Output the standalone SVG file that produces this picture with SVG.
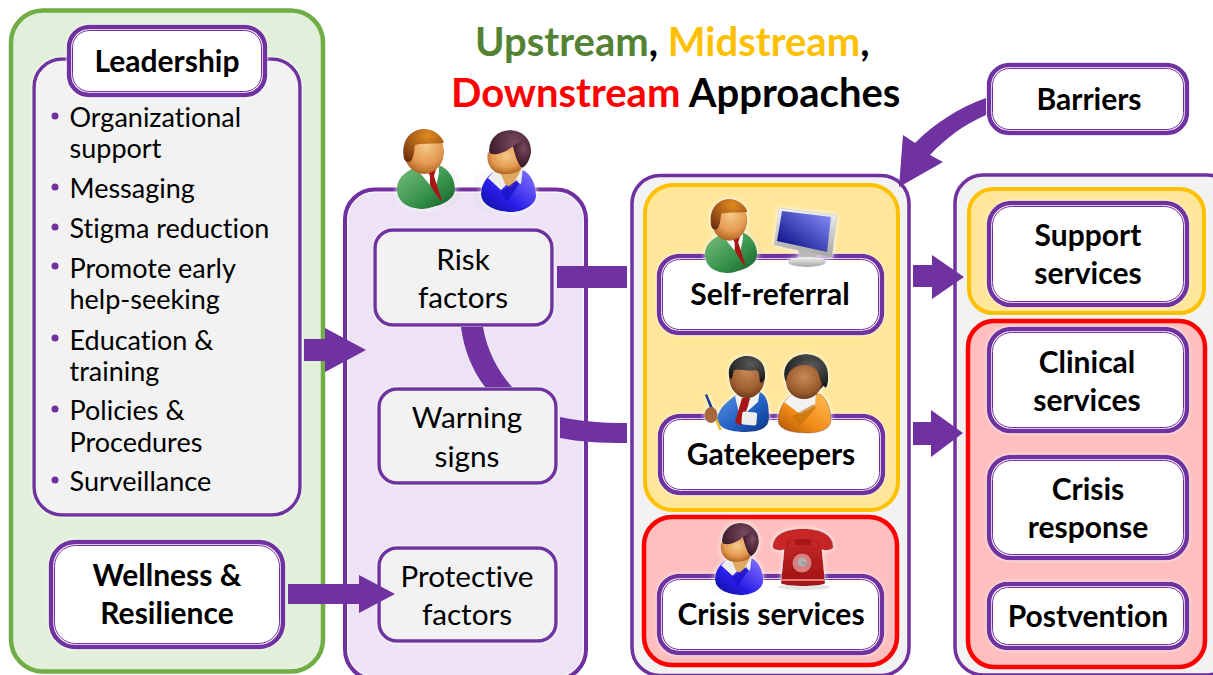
<svg xmlns="http://www.w3.org/2000/svg" xmlns:xlink="http://www.w3.org/1999/xlink" width="1213" height="675" viewBox="0 0 1213 675">
<style>
text{font-family:Lato,"Liberation Sans",sans-serif;fill:#000;font-variant-ligatures:none}
.b{font-weight:700;font-size:30px;text-anchor:middle}
.r{font-size:29.700px;text-anchor:middle}
.l{font-size:27px}
.t{font-weight:700;font-size:40px}
.p{fill:#7030a0;stroke:none}
.box{fill:#fff;stroke:#7030a0;stroke-width:4.500;filter:url(#glow)}
.thin{fill:none;stroke:#7030a0;stroke-width:1}
.soft{fill:#f2f2f2;stroke:#7030a0;stroke-width:3.500;filter:url(#glow)}
.arrow{fill:#7030a0;stroke:none;filter:url(#edge)}
</style>
<defs>
<filter id="glow" x="-10%" y="-10%" width="120%" height="120%"><feDropShadow dx="0" dy="0" stdDeviation="1.5" flood-color="#fff"/></filter>
<filter id="edge" x="-5%" y="-5%" width="110%" height="110%"><feGaussianBlur stdDeviation="0.5"/></filter>
<filter id="halo" x="-20%" y="-20%" width="140%" height="140%"><feDropShadow dx="0" dy="0" stdDeviation="2.5" flood-color="#fff"/></filter>
<radialGradient id="skin" cx=".55" cy=".35" r=".7"><stop offset="0" stop-color="#f6c98a"/><stop offset=".6" stop-color="#e49a50"/><stop offset="1" stop-color="#a85a1c"/></radialGradient>
<radialGradient id="skinD" cx=".5" cy=".35" r=".7"><stop offset="0" stop-color="#c98a58"/><stop offset=".7" stop-color="#9a5a2c"/><stop offset="1" stop-color="#5e3014"/></radialGradient>
<radialGradient id="hairB" cx=".6" cy=".2" r=".9"><stop offset="0" stop-color="#e08a20"/><stop offset="1" stop-color="#6e2f0c"/></radialGradient>
<radialGradient id="hairW" cx=".6" cy=".3" r=".8"><stop offset="0" stop-color="#7a4a60"/><stop offset="1" stop-color="#2a0c18"/></radialGradient>
<radialGradient id="hairK" cx=".6" cy=".3" r=".8"><stop offset="0" stop-color="#5a5a5a"/><stop offset="1" stop-color="#111"/></radialGradient>
<linearGradient id="suitG" x1="0" y1="0" x2="1" y2="1"><stop offset="0" stop-color="#7cc07e"/><stop offset=".6" stop-color="#36914a"/><stop offset="1" stop-color="#115c25"/></linearGradient>
<linearGradient id="suitW" x1="1" y1="0" x2="0" y2="1"><stop offset="0" stop-color="#8c78ff"/><stop offset=".6" stop-color="#2a1fe8"/><stop offset="1" stop-color="#0a0a9a"/></linearGradient>
<linearGradient id="suitB" x1="0" y1="0" x2="1" y2="1"><stop offset="0" stop-color="#5a96e6"/><stop offset=".6" stop-color="#1f5cc0"/><stop offset="1" stop-color="#0e3580"/></linearGradient>
<linearGradient id="suitO" x1="1" y1="0" x2="0" y2="1"><stop offset="0" stop-color="#ffc05a"/><stop offset=".6" stop-color="#f08a14"/><stop offset="1" stop-color="#a84e06"/></linearGradient>
<linearGradient id="screen" x1="0" y1="1" x2="1" y2="0"><stop offset="0" stop-color="#00007a"/><stop offset="1" stop-color="#8a96ff"/></linearGradient>
<linearGradient id="silver" x1="0" y1="0" x2="0" y2="1"><stop offset="0" stop-color="#f4f4f4"/><stop offset="1" stop-color="#a4a4a4"/></linearGradient>
<linearGradient id="phoneR" x1="0" y1="0" x2="0" y2="1"><stop offset="0" stop-color="#c42828"/><stop offset="1" stop-color="#a01212"/></linearGradient>

<g id="man">
<ellipse cx="50" cy="58" rx="14" ry="20" fill="#000" opacity=".05"/>
<path d="M0,60C0,46 14,40 22,36L42,36C52,40 58,50 58,60C58,70 46,76 36,78Q30,80 26,80C12,80 0,74 0,60Z" fill="url(#suitG)"/>
<path d="M18,38L26,33L42,33L42,44L38,62Z" fill="#fff"/>
<path d="M30,41L39,40L37,47L45,72L42,70L33,56L33,47Z" fill="#a81616"/>
<ellipse cx="27" cy="23" rx="20" ry="22" fill="url(#skin)"/>
<path d="M7,30C3,10 15,0 27,0C38,0 46,8 47,14C35,15 22,14 18,16C17,22 17,28 14,32C12,34 8,33 7,30Z" fill="url(#hairB)"/>
</g>
<g id="woman">
<ellipse cx="8" cy="60" rx="16" ry="22" fill="#000" opacity=".04"/>
<path d="M0,64C0,52 8,44 16,40L42,40C50,44 55,54 55,66C55,74 44,82 30,82C16,82 0,76 0,64Z" fill="url(#suitW)"/>
<path d="M7,48L16,38L42,38L40,54L30,50L20,60Z" fill="#eee"/>
<path d="M18,40L40,40L30,58L24,54Z" fill="#e0a860"/>
<path d="M20,62L36,50L38,54L26,72Z" fill="#1a12c8" opacity=".8"/>
<ellipse cx="29" cy="20" rx="21" ry="20" fill="url(#hairW)"/>
<path d="M7,22C15,28 28,20 32,16C34,24 36,32 41,38C36,44 28,44 22,44C12,44 4,34 7,22Z" fill="url(#skin)"/>
<path d="M41,38C46,36 50,28 50,20L42,10L32,16C34,24 36,32 41,38Z" fill="url(#hairW)"/>
</g>
<g id="manD">
<path d="M13,62C15,50 28,42 36,36L56,36C64,40 65,50 65,62C65,72 56,76 42,76C30,76 13,74 13,62Z" fill="url(#suitB)"/>
<path d="M31,40L38,34L56,34L54,46L36,62Z" fill="#f2f2f2"/>
<path d="M38,42L46,42L44,50L37,70L31,66Z" fill="#a81616"/>
<rect x="38" y="56" rx="2" width="15" height="13" fill="#eee" transform="rotate(5 45 60)"/>
<path d="M1,39L3,38L18,74L15,74Z" fill="#e8c020"/><path d="M1,39L3,38L10,54L7,55Z" fill="#1a3aa0"/>
<ellipse cx="7" cy="59" rx="6.500" ry="8" fill="#a8683c"/>
<ellipse cx="43" cy="21" rx="18" ry="21" fill="url(#skinD)"/>
<path d="M25,20C23,8 32,0 43,0C55,0 62,8 61,20C61,24 58,28 56,26C55,20 56,16 52,14C44,16 34,12 30,14C29,18 29,20 27,24Z" fill="url(#hairK)"/>
</g>
<g id="womanD">
<path d="M0,66C1,52 8,44 15,40L42,40C48,44 53,54 53,66C53,74 44,79 30,79C14,79 0,76 0,66Z" fill="url(#suitO)" stroke="#8a4208" stroke-width=".5"/>
<path d="M6,48L15,39L38,39L37,52L22,60Z" fill="#f2f2f2"/>
<path d="M14,62L36,50L38,54L22,72Z" fill="#c06a0a" opacity=".6"/>
<ellipse cx="28" cy="20" rx="22" ry="20" fill="url(#hairK)"/>
<ellipse cx="26" cy="28" rx="18" ry="17" fill="url(#skinD)"/>
<path d="M8,20C14,6 36,6 40,18C42,26 44,32 48,34C52,28 50,16 46,10C38,0 16,0 8,14Z" fill="url(#hairK)"/>
</g>
<g id="monitor">
<path d="M5,0L63,7L58,50L0,37Z" fill="url(#silver)" stroke="#ccc" stroke-width=".7"/>
<path d="M8,3L57,9L53,44L3,33Z" fill="url(#screen)"/>
<path d="M24,42L44,46L42,52L26,50Z" fill="#b8b8b8"/>
<ellipse cx="33" cy="54" rx="19" ry="5" fill="url(#silver)"/>
</g>
<g id="phone">
<ellipse cx="31" cy="58" rx="26" ry="3" fill="#000" opacity=".2"/>
<path d="M12,12C16,10 44,10 48,12L52,54C52,58 9,58 8,54Z" fill="url(#phoneR)"/>
<path d="M0,18C0,6 12,0 30,0C48,0 60,6 60,18C60,22 46,22 46,18L45,12L15,12L14,18C14,22 0,22 0,18Z" fill="#c82828" stroke="#8e1010" stroke-width=".5"/>
<rect x="22" y="10" width="16" height="6" fill="#a81414"/>
<circle cx="29" cy="34" r="10" fill="#dc7c7c" stroke="#8e1010" stroke-width=".7"/>
<circle cx="29" cy="33" r="4.500" fill="#b0b0b0"/>
<path d="M29,33L37,38" stroke="#999" stroke-width="2"/>
<rect x="9" y="50" width="42" height="2" fill="#e87a7a"/>
</g>
</defs>

<g id="panel-left"><rect x="11" y="10.500" width="312" height="661" rx="32" fill="#e2efda" stroke="#70ad47" stroke-width="4.500"/></g>
<g id="leadership-panel">
<rect x="34" y="59" width="266" height="456" rx="28" fill="#f2f2f2" stroke="#7030a0" stroke-width="3.500" filter="url(#glow)"/>
<g class="p"><circle cx="55" cy="116" r="3.500"/><circle cx="55" cy="187" r="3.500"/><circle cx="55" cy="227" r="3.500"/><circle cx="55" cy="266" r="3.500"/><circle cx="55" cy="338" r="3.500"/><circle cx="55" cy="409" r="3.500"/><circle cx="55" cy="480" r="3.500"/></g>
<text class="l" x="69.500" y="127">Organizational</text>
<text class="l" x="69.500" y="158">support</text>
<text class="l" x="69.500" y="198">Messaging</text>
<text class="l" x="69.500" y="238">Stigma reduction</text>
<text class="l" x="69.500" y="278">Promote early</text>
<text class="l" x="69.500" y="309">help-seeking</text>
<text class="l" x="69.500" y="350">Education &amp;</text>
<text class="l" x="69.500" y="381">training</text>
<text class="l" x="69.500" y="420">Policies &amp;</text>
<text class="l" x="69.500" y="452">Procedures</text>
<text class="l" x="69.500" y="491">Surveillance</text>
</g>
<g id="leadership"><rect class="box" x="69" y="27" width="196" height="68" rx="20"/><rect class="thin" x="72.500" y="30.500" width="189" height="61" rx="17"/><text class="b" x="167" y="72">Leadership</text></g>
<g id="wellness"><rect class="box" x="51" y="542" width="232" height="105" rx="24"/><rect class="thin" x="54.500" y="545.500" width="225" height="98" rx="21"/><text class="b" x="167" y="586">Wellness &amp;</text><text class="b" x="167" y="624">Resilience</text></g>

<g id="panel-factors"><rect x="345" y="189.500" width="241" height="490" rx="30" fill="#ede3f5" stroke="#7030a0" stroke-width="4"/><rect x="347.800" y="192.300" width="235.400" height="484" rx="27" fill="none" stroke="#fff" stroke-width=".8"/></g>
<g id="panel-services"><rect x="632" y="175.500" width="277" height="500" rx="28" fill="#f2f2f2" stroke="#7030a0" stroke-width="3.500"/></g>
<g id="panel-outcomes"><rect x="955" y="175" width="280" height="500" rx="28" fill="#f2f2f2" stroke="#7030a0" stroke-width="3.500"/></g>
<g id="group-midstream"><rect x="645" y="185" width="253" height="325" rx="28" fill="#ffe699" stroke="#ffc000" stroke-width="4"/></g>
<g id="group-crisis"><rect x="644" y="517" width="253" height="148" rx="28" fill="#ffbfbf" stroke="#f00" stroke-width="4.500"/></g>
<g id="group-support"><rect x="969" y="189" width="235" height="124" rx="24" fill="#ffe699" stroke="#ffc000" stroke-width="4"/></g>
<g id="group-downstream"><rect x="968" y="321" width="237" height="346" rx="26" fill="#ffbfbf" stroke="#f00" stroke-width="4.500"/></g>

<g id="risk-factors"><rect class="soft" x="375" y="230" width="177" height="95" rx="18"/><text class="r" x="463" y="270">Risk</text><text class="r" x="463" y="308">factors</text></g>
<g id="warning-signs"><rect class="soft" x="379" y="389" width="177" height="94" rx="18"/><text class="r" x="467" y="428">Warning</text><text class="r" x="467" y="467">signs</text></g>
<g id="protective-factors"><rect class="soft" x="379" y="548" width="177" height="93" rx="18"/><text class="r" x="467" y="587">Protective</text><text class="r" x="467" y="625">factors</text></g>

<g id="self-referral"><rect class="box" x="659" y="256" width="223" height="77" rx="20"/><rect class="thin" x="662.500" y="259.500" width="216" height="70" rx="17"/><text class="b" x="770" y="305">Self-referral</text></g>
<g id="gatekeepers"><rect class="box" x="660" y="416" width="223" height="77" rx="20"/><rect class="thin" x="663.500" y="419.500" width="216" height="70" rx="17"/><text class="b" x="771" y="465">Gatekeepers</text></g>
<g id="crisis-services"><rect class="box" x="659" y="576" width="223" height="77" rx="20"/><rect class="thin" x="662.500" y="579.500" width="216" height="70" rx="17"/><text class="b" x="771" y="625">Crisis services</text></g>
<g id="barriers"><rect class="box" x="989" y="65" width="198" height="68" rx="20"/><rect class="thin" x="992.500" y="68.500" width="191" height="61" rx="17"/><text class="b" x="1089" y="110">Barriers</text></g>
<g id="support"><rect class="box" x="989" y="203" width="198" height="102" rx="22"/><rect class="thin" x="992.500" y="206.500" width="191" height="95" rx="19"/><text class="b" x="1088" y="246">Support</text><text class="b" x="1088" y="284">services</text></g>
<g id="clinical"><rect class="box" x="989" y="329" width="198" height="102" rx="22"/><rect class="thin" x="992.500" y="332.500" width="191" height="95" rx="19"/><text class="b" x="1087" y="373">Clinical</text><text class="b" x="1087" y="411">services</text></g>
<g id="crisis-response"><rect class="box" x="989" y="457" width="198" height="101" rx="22"/><rect class="thin" x="992.500" y="460.500" width="191" height="94" rx="19"/><text class="b" x="1088" y="500">Crisis</text><text class="b" x="1088" y="538">response</text></g>
<g id="postvention"><rect class="box" x="989" y="584" width="198" height="64" rx="18"/><rect class="thin" x="992.500" y="587.500" width="191" height="57" rx="15"/><text class="b" x="1088" y="627">Postvention</text></g>

<g id="connectors">
<path class="arrow" d="M304,339H325V328L366,350L325,372V361H304Z"/>
<path class="arrow" d="M288,584H359V575L395,594L359,613V604H288Z"/>
<path class="arrow" d="M557,266H627V288H557Z"/>
<path class="arrow" d="M560,417C580,421 600,423 627,423V443C600,443 580,442 560,438Z"/>
<path class="arrow" d="M461,327H483C487,350 497,370 512,387H485C472,370 464,350 461,327Z"/>
<path class="arrow" d="M913,265H932V255L964,277L932,299V287H913Z"/>
<path class="arrow" d="M913,422H931V410L963,433L931,457V445H913Z"/>
<path class="arrow" d="M986,98C958,108 934,124 915,143L903,135L899,187L943,162L930,155C945,139 963,125 986,115Z"/>
</g>

<g id="icons" filter="url(#halo)">
<use xlink:href="#man" href="#man" transform="translate(397 129)"/>
<use xlink:href="#woman" href="#woman" transform="translate(481 130)"/>
<use xlink:href="#man" href="#man" transform="translate(705 199) scale(.9 .925)"/>
<use xlink:href="#monitor" href="#monitor" transform="translate(774 208)"/>
<use xlink:href="#manD" href="#manD" transform="translate(704 356)"/>
<use xlink:href="#womanD" href="#womanD" transform="translate(778 354)"/>
<use xlink:href="#woman" href="#woman" transform="translate(715 523) scale(.875 .88)"/>
<use xlink:href="#phone" href="#phone" transform="translate(773 529)"/>
</g>

<g id="title">
<text class="t" x="475" y="56"><tspan style="fill:#548235">Upstream</tspan>, <tspan style="fill:#ffc000">Midstream</tspan>,</text>
<text class="t" x="451" y="107"><tspan style="fill:#f00">Downstream</tspan> Approaches</text>
</g>
</svg>
